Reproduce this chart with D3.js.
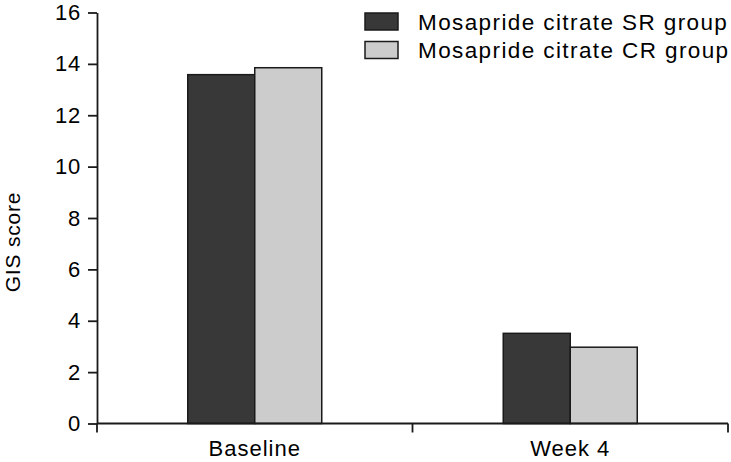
<!DOCTYPE html>
<html>
<head>
<meta charset="utf-8">
<script src="https://cdn.jsdelivr.net/npm/d3@7"></script>
<style>
  body { margin: 0; background: #fff; }
  svg text { font-family: "Liberation Sans", Arial, sans-serif; fill: #000; }
</style>
</head>
<body>
<div id="container"></div>
<script>
// chart data
const categories = ["Baseline", "Week 4"];
const seriesNames = ["Mosapride citrate SR group", "Mosapride citrate CR group"];
const srValues = [13.58, 3.51];
const crValues = [13.85, 2.97];
const yTicks = [0, 2, 4, 6, 8, 10, 12, 14, 16];
const colors = ["#383838", "#cccccc"];

const width = 731;
const height = 462;

// plot area (pixel edges of the axes)
const plotLeft = 97, plotRight = 728, plotTop = 12.5, plotBottom = 423.5;
const groupWidth = 134;

const svg = d3.select("#container")
  .append("svg")
  .attr("width", width)
  .attr("height", height);

/*==============================================
  SCALES
===============================================*/
const yScale = d3.scaleLinear().domain([0, 16]).range([plotBottom, plotTop]);
const x0 = d3.scaleBand().domain(categories).range([plotLeft, plotRight]).padding(0);
const x1 = d3.scaleBand().domain(seriesNames).range([0, groupWidth]).padding(0);

const rows = categories.map((c, i) => ({
  category: c,
  values: [
    { name: seriesNames[0], value: srValues[i] },
    { name: seriesNames[1], value: crValues[i] }
  ]
}));

/*==============================================
  BARS
===============================================*/
const groups = svg.selectAll("g.group")
  .data(rows)
  .enter()
  .append("g")
  .attr("class", "group")
  .attr("transform", d => `translate(${x0(d.category) + x0.bandwidth() / 2 - groupWidth / 2},0)`);

groups.selectAll("rect")
  .data(d => d.values)
  .enter()
  .append("rect")
  .attr("x", d => x1(d.name))
  .attr("y", d => yScale(d.value))
  .attr("width", x1.bandwidth())
  .attr("height", d => plotBottom - yScale(d.value))
  .attr("fill", (d, i) => colors[i])
  .attr("stroke", "#1a1a1a")
  .attr("stroke-width", 1.5);

/*==============================================
  Y AXIS
===============================================*/
const yAxis = d3.axisLeft(yScale)
  .tickValues(yTicks)
  .tickSize(9)
  .tickSizeOuter(0)
  .tickPadding(7);

const yAxisG = svg.append("g")
  .attr("transform", `translate(${plotLeft},0)`)
  .call(yAxis);

yAxisG.select(".domain").attr("stroke", "#1a1a1a").attr("stroke-width", 1.8);
yAxisG.selectAll(".tick line").attr("stroke", "#1a1a1a").attr("stroke-width", 1.8);
yAxisG.selectAll(".tick text")
  .attr("font-size", 22)
  .attr("letter-spacing", "0.8px")
  .attr("font-family", null)
  .attr("fill", "#000");

/*==============================================
  X AXIS
===============================================*/
const xAxis = d3.axisBottom(x0).tickSize(0).tickPadding(17);
const xAxisG = svg.append("g")
  .attr("transform", `translate(0,${plotBottom})`)
  .call(xAxis);

xAxisG.select(".domain")
  .attr("d", `M${plotLeft},0H${plotRight}`)
  .attr("stroke", "#1a1a1a")
  .attr("stroke-width", 1.8);
xAxisG.selectAll(".tick text")
  .attr("font-size", 22)
  .attr("letter-spacing", "1px")
  .attr("font-family", null)
  .attr("fill", "#000");

// boundary ticks between categories
const boundaries = [x0(categories[0])].concat(categories.map(c => x0(c) + x0.bandwidth()));
xAxisG.selectAll("line.bound")
  .data(boundaries)
  .enter()
  .append("line")
  .attr("class", "bound")
  .attr("x1", d => d)
  .attr("x2", d => d)
  .attr("y1", 0)
  .attr("y2", 9)
  .attr("stroke", "#1a1a1a")
  .attr("stroke-width", 1.8);

// y axis title
svg.append("text")
  .attr("transform", "translate(20,242) rotate(-90)")
  .attr("text-anchor", "middle")
  .attr("font-size", 21)
  .attr("letter-spacing", "0.8px")
  .text("GIS score");

/*==============================================
  LEGEND
===============================================*/
const legend = svg.append("g").attr("transform", "translate(365,13)");
const items = legend.selectAll("g")
  .data(seriesNames)
  .enter()
  .append("g")
  .attr("transform", (d, i) => `translate(0,${i * 28.5})`);

items.append("rect")
  .attr("width", 33)
  .attr("height", 17)
  .attr("fill", (d, i) => colors[i])
  .attr("stroke", "#1a1a1a")
  .attr("stroke-width", 1.5);

items.append("text")
  .attr("x", 53)
  .attr("y", 16.5)
  .attr("font-size", 22.5)
  .attr("letter-spacing", "1.4px")
  .text(d => d);
</script>
</body>
</html>
